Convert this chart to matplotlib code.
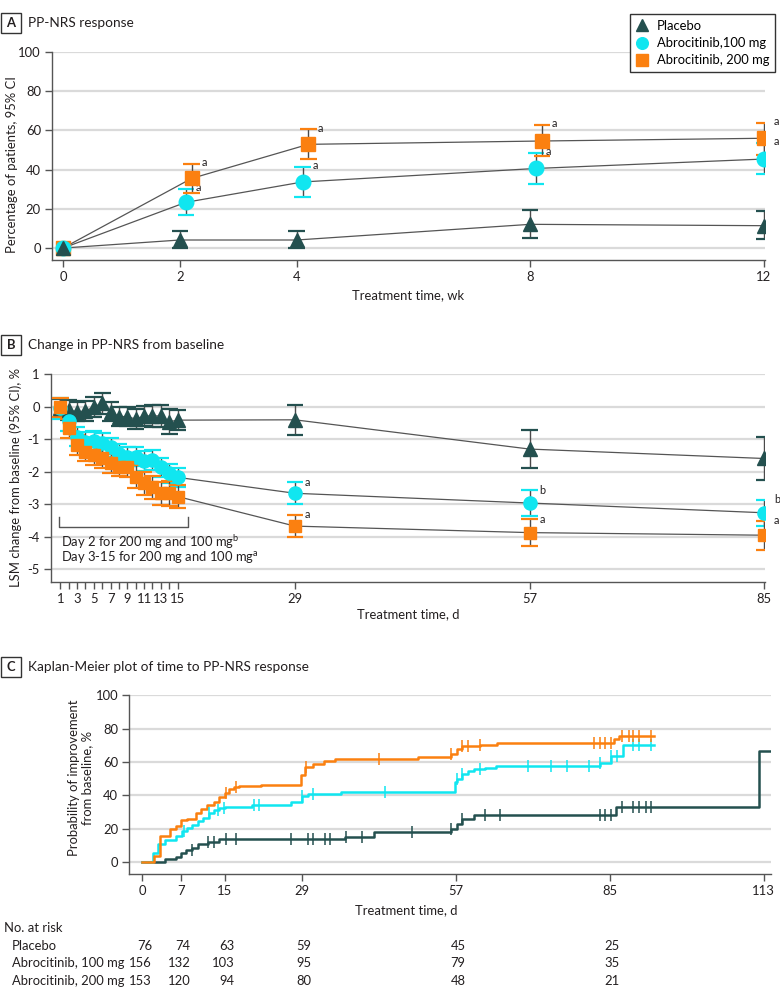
import numpy as np
import matplotlib.pyplot as plt
from matplotlib import font_manager
import matplotlib.transforms as mtransforms
from matplotlib.patches import Rectangle

# font: a narrow sans if there is one, else Lato a bit smaller
names = {f.name for f in font_manager.fontManager.ttflist}
if 'Liberation Sans Narrow' in names:
    FAM, FS = 'Liberation Sans Narrow', 10.5
else:
    FAM, FS = 'Lato', 9.4
plt.rcParams['font.family'] = [FAM, 'DejaVu Sans']
plt.rcParams['mathtext.default'] = 'regular'
plt.rcParams['axes.unicode_minus'] = False

C_PLA = '#24504f'
C_100 = '#10e6f0'
C_200 = '#fb8010'
C_LINE = '#555555'
C_GRID = '#dadada'
C_TXT = '#231f20'

#############################################################
# A - PP-NRS response (% of patients, 95% CI)
weeks = np.array([0, 2, 4, 8, 12])
a_pla = np.array([0, 4.1, 4.1, 12.1, 11.4])
a_pla_lo = np.array([0, 0.2, 0.2, 4.9, 4.4])
a_pla_hi = np.array([0, 8.7, 8.7, 19.5, 19.0])
a_100 = np.array([0, 23.3, 33.7, 40.6, 45.4])
a_100_lo = np.array([0, 16.8, 26.0, 32.8, 37.6])
a_100_hi = np.array([0, 30.0, 41.3, 48.5, 53.6])
a_200 = np.array([0, 35.5, 52.9, 54.6, 56.0])
a_200_lo = np.array([0, 28.2, 45.6, 46.8, 47.6])
a_200_hi = np.array([0, 42.9, 60.5, 62.6, 63.6])
a_100_sig = ['', 'a', 'a', 'a', 'a']
a_200_sig = ['', 'a', 'a', 'a', 'a']

#############################################################
# B - LSM change from baseline (95% CI)
days_b = np.array(list(range(1, 16)) + [29, 57, 85])
b_pla = np.array([-0.05, -0.10, -0.15, -0.13, 0.0, 0.11, -0.15, -0.30, -0.30,
                  -0.38, -0.28, -0.28, -0.28, -0.46, -0.41, -0.40, -1.30, -1.59])
b_pla_err = np.array([0.3, 0.31, 0.3, 0.3, 0.3, 0.32, 0.3, 0.3, 0.3,
                      0.3, 0.32, 0.33, 0.33, 0.38, 0.3, 0.47, 0.59, 0.67])
b_100 = np.array([-0.05, -0.45, -0.92, -1.07, -1.05, -1.12, -1.25, -1.45, -1.53,
                  -1.53, -1.67, -1.64, -1.86, -2.05, -2.17, -2.66, -2.96, -3.26])
b_100_err = np.array([0.33, 0.3, 0.3, 0.3, 0.3, 0.3, 0.3, 0.3, 0.3,
                      0.3, 0.3, 0.3, 0.3, 0.3, 0.3, 0.34, 0.40, 0.40])
b_200 = np.array([-0.02, -0.66, -1.18, -1.38, -1.48, -1.59, -1.74, -1.84, -1.86,
                  -2.15, -2.35, -2.48, -2.66, -2.66, -2.76, -3.67, -3.87, -3.95])
b_200_err = np.array([0.3, 0.3, 0.3, 0.3, 0.3, 0.3, 0.3, 0.3, 0.3,
                      0.35, 0.35, 0.35, 0.35, 0.38, 0.36, 0.35, 0.41, 0.45])
b_sig_days = [29, 57, 85]
b_100_sig = ['a', 'b', 'b']
b_200_sig = ['a', 'a', 'a']
b_ticks = [1, 3, 5, 7, 9, 11, 13, 15, 29, 57, 85]
b_note1 = 'Day 2 for 200 mg and 100 mg$^{b}$'
b_note2 = 'Day 3-15 for 200 mg and 100 mg$^{a}$'

#############################################################
# C - Kaplan-Meier time to PP-NRS response
km_pla_t = [0, 2.2, 4.1, 6.1, 7.1, 8.0, 9.1, 10.1, 12.0, 14.0, 36.8, 42.2,
            56.2, 57.2, 58.2, 60.3, 86.2, 112.2]
km_pla_y = [0, 0, 1.5, 3.2, 5.5, 7.0, 8.5, 11.0, 12.2, 13.5, 15.0, 18.0,
            19.8, 22.5, 25.8, 28.2, 32.8, 66.5]
km_pla_end = 114.2
km_pla_cens = [9.0, 12.0, 13.1, 15.2, 17.1, 27.0, 30.2, 31.1, 33.2, 34.1, 37.0,
               40.0, 49.1, 56.2, 58.2, 62.3, 65.1, 83.3, 84.2, 85.3, 87.2, 89.3,
               90.3, 91.5, 92.4]
km_100_t = [0, 2.0, 2.9, 4.1, 6.1, 7.2, 8.1, 9.1, 10.2, 11.1, 12.1, 13.1, 14.0,
            15.0, 20.0, 27.0, 29.0, 30.1, 36.2, 56.8, 57.2, 58.2, 59.2, 60.3,
            62.3, 64.3, 83.2, 85.3, 87.4]
km_100_y = [0, 5.6, 10.8, 13.2, 15.6, 18.4, 20.4, 22.4, 24.4, 26.4, 29.2, 31.2,
            32.6, 33.2, 34.0, 36.2, 39.6, 41.0, 41.8, 47.8, 50.0, 52.6, 54.6,
            55.6, 56.6, 57.4, 59.2, 63.6, 70.2]
km_100_end = 93.0
km_100_cens = [7.6, 12.1, 13.8, 14.8, 20.3, 21.2, 29.1, 31.1, 44.2, 57.2, 58.2,
               61.4, 70.1, 74.3, 77.3, 81.2, 83.2, 85.3, 86.3, 89.3, 90.3, 92.4]
km_200_t = [0, 2.2, 3.2, 5.1, 6.1, 7.1, 8.2, 9.7, 10.6, 11.8, 13.0, 14.0, 15.0,
            15.8, 16.7, 17.6, 21.6, 28.9, 29.5, 31.0, 33.0, 35.1, 50.1, 56.2,
            57.2, 58.2, 61.4, 64.5, 85.8, 86.7]
km_200_y = [0, 3.4, 15.6, 19.6, 21.6, 25.2, 26.0, 29.2, 31.6, 34.2, 36.2, 38.8,
            41.2, 43.8, 45.0, 45.6, 46.2, 52.4, 57.0, 59.0, 60.6, 61.6, 63.0,
            64.8, 67.8, 69.8, 70.4, 71.2, 74.0, 75.6]
km_200_end = 93.0
km_200_cens = [15.3, 17.1, 29.8, 43.0, 56.2, 58.2, 59.3, 61.4, 82.1, 83.2, 84.2,
               85.3, 87.3, 88.4, 89.3, 90.3, 92.4]
c_ticks = [0, 7, 15, 29, 57, 85, 113]

# numbers at risk
risk_days = [0, 7, 15, 29, 57, 85]
risk_rows = ['Placebo', 'Abrocitinib, 100 mg', 'Abrocitinib, 200 mg']
risk_pla = [76, 74, 63, 59, 45, 25]
risk_100 = [156, 132, 103, 95, 79, 35]
risk_200 = [153, 120, 94, 80, 48, 21]

legend_labels = ['Placebo', 'Abrocitinib,100 mg', 'Abrocitinib, 200 mg']

W, H = 780, 1000
fig = plt.figure(figsize=(7.8, 10), dpi=100)


def px(x0, y0, x1, y1):
    # axes rectangle from pixel corners (top-left origin)
    return [x0 / W, 1 - y1 / H, (x1 - x0) / W, (y1 - y0) / H]


def style(ax):
    for s in ['top', 'right']:
        ax.spines[s].set_visible(False)
    for s in ['left', 'bottom']:
        ax.spines[s].set_color(C_LINE)
        ax.spines[s].set_linewidth(1.0)
    ax.tick_params(length=5, width=1, color=C_LINE, labelcolor=C_TXT,
                   labelsize=FS, pad=3)
    ax.yaxis.grid(True, color=C_GRID, lw=1.6)
    ax.set_axisbelow(True)


def err(ax, x, lo, hi, color, cap, z):
    ax.vlines(x, lo, hi, color='#4a4a4a', lw=1, zorder=z)
    ax.hlines(lo, x - cap, x + cap, color=color, lw=1.6, zorder=z)
    ax.hlines(hi, x - cap, x + cap, color=color, lw=1.6, zorder=z)


def panel_title(letter, text, yc):
    fig.patches.append(Rectangle((1 / W, 1 - (yc + 10) / H), 20 / W, 20 / H,
                                 transform=fig.transFigure, fc='white',
                                 ec='#333333', lw=1))
    fig.text(11 / W, 1 - yc / H, letter, ha='center', va='center',
             fontsize=FS, fontweight='bold', color=C_TXT)
    fig.text(28 / W, 1 - yc / H, text, ha='left', va='center',
             fontsize=FS + 0.4, color=C_TXT)


#############################################################
# Panel A
axA = fig.add_axes(px(52, 52, 765, 260))
style(axA)
axA.set_xlim(-0.19, 12.02)
axA.set_ylim(-6.1, 100)
axA.set_xticks(weeks)
axA.set_yticks([0, 20, 40, 60, 80, 100])

dodge = np.where((weeks > 0) & (weeks < 12), 1.0, 0.0)
x_pla = weeks.astype(float)
x_100 = weeks + 0.1 * dodge
x_200 = weeks + 0.2 * dodge

for x, y in [(x_pla, a_pla), (x_100, a_100), (x_200, a_200)]:
    axA.plot(x, y, color=C_LINE, lw=0.9, zorder=2)
err(axA, x_pla[1:], a_pla_lo[1:], a_pla_hi[1:], C_PLA, 0.14, 3)
err(axA, x_100[1:], a_100_lo[1:], a_100_hi[1:], C_100, 0.14, 3)
err(axA, x_200[1:], a_200_lo[1:], a_200_hi[1:], C_200, 0.14, 3)
h200, = axA.plot(x_200, a_200, 's', ms=10, color=C_200, zorder=4, label=legend_labels[2])
h100, = axA.plot(x_100, a_100, 'o', ms=10.5, color=C_100, zorder=5, label=legend_labels[1])
hpla, = axA.plot(x_pla, a_pla, '^', ms=10.5, color=C_PLA, zorder=6, label=legend_labels[0])

for x, hi, s in zip(x_100, a_100_hi, a_100_sig):
    if s:
        axA.annotate(s, (x, hi), xytext=(7, 1), textcoords='offset points',
                     fontsize=FS - 1.5, color=C_TXT, va='center')
for x, hi, s in zip(x_200, a_200_hi, a_200_sig):
    if s:
        axA.annotate(s, (x, hi), xytext=(7, 1), textcoords='offset points',
                     fontsize=FS - 1.5, color=C_TXT, va='center')

fig.legend(handles=[hpla, h100, h200], loc='upper right',
           bbox_to_anchor=(775 / W, 1 - 14 / H), fontsize=FS, frameon=True,
           fancybox=False, edgecolor='#333333', framealpha=1, borderpad=0.45,
           labelspacing=0.4, handlelength=1.0, handletextpad=0.6,
           borderaxespad=0, markerscale=0.8)

panel_title('A', 'PP-NRS response', 23)
fig.text(12 / W, 1 - 165 / H, 'Percentage of patients, 95% CI', rotation=90,
         ha='center', va='center', fontsize=FS, color=C_TXT)
fig.text(408 / W, 1 - 295 / H, 'Treatment time, wk', ha='center', va='center',
         fontsize=FS, color=C_TXT)

#############################################################
# Panel B
axB = fig.add_axes(px(51, 374.3, 765, 581.7))
style(axB)
axB.set_xlim(-0.11, 85.1)
axB.set_ylim(-5.38, 1)
axB.set_yticks([1, 0, -1, -2, -3, -4, -5])
axB.set_xticks(b_ticks)
axB.set_xticks(range(2, 16, 2), minor=True)
axB.tick_params(which='minor', length=5, width=1, color=C_LINE)

for y in [b_pla, b_100, b_200]:
    axB.plot(days_b, y, color=C_LINE, lw=0.9, zorder=2)
err(axB, days_b, b_pla - b_pla_err, b_pla + b_pla_err, C_PLA, 1.0, 3)
err(axB, days_b, b_100 - b_100_err, b_100 + b_100_err, C_100, 1.0, 3)
err(axB, days_b, b_200 - b_200_err, b_200 + b_200_err, C_200, 1.0, 3)
axB.plot(days_b, b_pla, '^', ms=9.5, color=C_PLA, zorder=4)
axB.plot(days_b, b_100, 'o', ms=9.5, color=C_100, zorder=5)
axB.plot(days_b, b_200, 's', ms=9, color=C_200, zorder=6)

for d, s in zip(b_sig_days, b_100_sig):
    k = list(days_b).index(d)
    axB.annotate(s, (d, b_100[k] + b_100_err[k]), xytext=(7, 0),
                 textcoords='offset points', fontsize=FS - 1.5, color=C_TXT,
                 va='center')
for d, s in zip(b_sig_days, b_200_sig):
    k = list(days_b).index(d)
    axB.annotate(s, (d, b_200[k] + b_200_err[k]), xytext=(7, 0),
                 textcoords='offset points', fontsize=FS - 1.5, color=C_TXT,
                 va='center')

# bracket over days 1-16
axB.plot([0.8, 0.8, 16.2, 16.2], [-3.38, -3.71, -3.71, -3.38], color=C_LINE,
         lw=1, zorder=2)
axB.text(1.05, -4.15, b_note1, ha='left', va='center', fontsize=FS, color=C_TXT)
axB.text(1.05, -4.61, b_note2, ha='left', va='center', fontsize=FS, color=C_TXT)

panel_title('B', 'Change in PP-NRS from baseline', 345)
fig.text(16 / W, 1 - 477 / H, 'LSM change from baseline (95% CI), %', rotation=90,
         ha='center', va='center', fontsize=FS, color=C_TXT)
fig.text(408 / W, 1 - 614 / H, 'Treatment time, d', ha='center', va='center',
         fontsize=FS, color=C_TXT)

#############################################################
# Panel C
axC = fig.add_axes(px(129.3, 695.3, 771, 874))
style(axC)
axC.set_xlim(-2.36, 114.3)
axC.set_ylim(-7.2, 100)
axC.set_yticks([0, 20, 40, 60, 80, 100])
axC.set_xticks(c_ticks)

for t, y, end, cens, col in [(km_pla_t, km_pla_y, km_pla_end, km_pla_cens, C_PLA),
                             (km_100_t, km_100_y, km_100_end, km_100_cens, C_100),
                             (km_200_t, km_200_y, km_200_end, km_200_cens, C_200)]:
    tt = list(t) + [end]
    yy = list(y) + [y[-1]]
    axC.step(tt, yy, where='post', color=col, lw=1.8, zorder=3)
    idx = np.searchsorted(np.array(t), np.array(cens), side='right') - 1
    axC.plot(cens, np.array(y)[idx], ls='none', marker='|', ms=9, mew=1.1,
             color=col, zorder=4)

panel_title('C', 'Kaplan-Meier plot of time to PP-NRS response', 667)
fig.text(81 / W, 1 - 778 / H, 'Probability of improvement\nfrom baseline, %',
         rotation=90, ha='center', va='center', fontsize=FS, color=C_TXT,
         linespacing=1.1)
fig.text(406 / W, 1 - 910 / H, 'Treatment time, d', ha='center', va='center',
         fontsize=FS, color=C_TXT)

# numbers at risk table
fig.text(4 / W, 1 - 928 / H, 'No. at risk', ha='left', va='center',
         fontsize=FS, color=C_TXT)
trans = mtransforms.blended_transform_factory(axC.transData, fig.transFigure)
for row, vals, yc in zip(risk_rows, [risk_pla, risk_100, risk_200],
                         [945.7, 963.3, 980.7]):
    fig.text(12 / W, 1 - yc / H, row, ha='left', va='center', fontsize=FS,
             color=C_TXT)
    for d, v in zip(risk_days, vals):
        fig.text(d + 1.8, 1 - yc / H, str(v), transform=trans, ha='right',
                 va='center', fontsize=FS, color=C_TXT)

fig.savefig('out.png', dpi=100)
